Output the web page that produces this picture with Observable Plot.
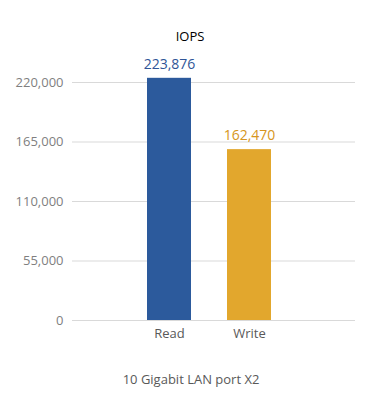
<!DOCTYPE html>
<html>
<head>
<meta charset="utf-8">
<script src="https://cdn.jsdelivr.net/npm/d3@7"></script>
<script src="https://cdn.jsdelivr.net/npm/@observablehq/plot@0.6"></script>
<style>
  html, body { margin: 0; padding: 0; background: #fff; }
  #wrap { position: relative; width: 380px; height: 420px; font-family: "Open Sans", sans-serif; }
  #title { position: absolute; left: 0; width: 380px; top: 27px; text-align: center; font-size: 13px; color: #000; }
  #caption { position: absolute; left: 0; width: 382px; top: 370px; text-align: center; font-size: 13px; color: #595959; }
  #chart { position: absolute; left: 0; top: 0; }
</style>
</head>
<body>
<div id="wrap">
  <div id="chart"></div>
  <div id="title">IOPS</div>
  <div id="caption">10 Gigabit LAN port X2</div>
</div>
<script>
const categories = ["Read", "Write"];
const barValues = [223876, 157950];
const valueLabels = ["223,876", "162,470"];
const barColors = ["#2C5A9C", "#E2A72D"];
const labelColors = ["#2F5597", "#D69521"];
const yTicks = [0, 55000, 110000, 165000, 220000];

const data = categories.map((c, i) => ({
  category: c, value: barValues[i], label: valueLabels[i],
  color: barColors[i], labelColor: labelColors[i]
}));

const chart = Plot.plot({
  width: 380,
  height: 420,
  marginLeft: 72,
  marginRight: 25,
  marginTop: 82,
  marginBottom: 100,
  style: { fontFamily: "Open Sans, sans-serif", background: "transparent" },
  x: { domain: categories, range: [146, 272], paddingInner: 0.4444, paddingOuter: 0, label: null },
  y: { domain: [0, 220000], nice: false, label: null },
  marks: [
    Plot.ruleY(yTicks, { stroke: "#d9d9d9", strokeWidth: 1 }),
    Plot.barY(data, { x: "category", y: "value", fill: "color" }),
    Plot.text(data, { x: "category", y: "value", text: "label", fill: "labelColor", dy: -14, fontSize: 14, lineAnchor: "middle" }),
    Plot.axisY({ ticks: yTicks, tickSize: 0, tickPadding: 9, tickFormat: d3.format(","), fontSize: 13, fill: "#7f7f7f", label: null }),
    Plot.axisX({ tickSize: 0, tickPadding: 8, fontSize: 13, fill: "#595959", label: null })
  ]
});
document.getElementById("chart").appendChild(chart);
</script>
</body>
</html>
